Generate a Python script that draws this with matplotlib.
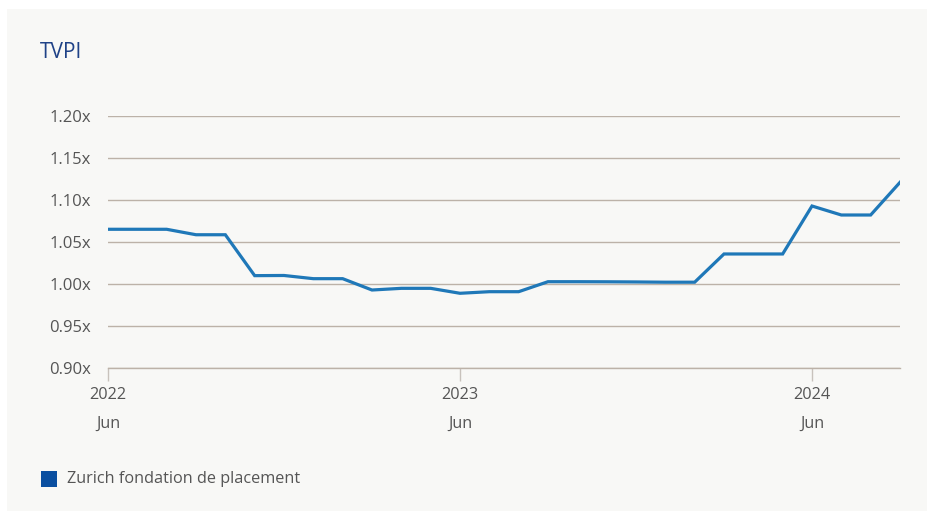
import matplotlib.pyplot as plt
from matplotlib.patches import Rectangle

plt.rcParams['font.family'] = ['Open Sans', 'DejaVu Sans']

# monthly TVPI, Jun 2022 .. Sep 2024
months = list(range(28))
tvpi = [1.0655, 1.0655, 1.0655, 1.059, 1.059, 1.0103, 1.0105, 1.0067, 1.0067,
        0.9932, 0.9952, 0.9952, 0.9893, 0.9912, 0.9912, 1.0031, 1.0031, 1.0030,
        1.0028, 1.0025, 1.0025, 1.0361, 1.0361, 1.0361, 1.0932, 1.0825, 1.0825,
        1.1214]
year_ticks = [0, 12, 24]
year_labels = ['2022\n\nJun', '2023\n\nJun', '2024\n\nJun']
y_ticks = [0.90, 0.95, 1.00, 1.05, 1.10, 1.15, 1.20]
series_name = 'Zurich fondation de placement'

bg = '#f8f8f6'
grid_col = '#bcb2a8'
text_col = '#555555'

fig = plt.figure(figsize=(9.28, 5.11), dpi=100)
fig.patch.set_facecolor('white')
fig.patches.append(Rectangle((7 / 928, -0.05), 1.1, 1.05 - 9 / 511, transform=fig.transFigure,
                             facecolor=bg, edgecolor='none', zorder=-10))

ax = fig.add_axes([108 / 928, 1 - 368.3 / 511, (900 - 108) / 928, (368.3 - 116.3) / 511])
ax.set_facecolor(bg)
ax.plot(months, tvpi, color='#1f78b8', lw=2.3, solid_joinstyle='miter', zorder=3)

ax.set_xlim(0, 27)
ax.set_ylim(0.90, 1.20)
ax.set_yticks(y_ticks)
ax.set_yticklabels([f'{v:.2f}x' for v in y_ticks])
ax.set_xticks(year_ticks)
ax.set_xticklabels(year_labels, linespacing=0.85)

for s in ['top', 'right', 'left']:
    ax.spines[s].set_visible(False)
ax.spines['bottom'].set_color(grid_col)
ax.spines['bottom'].set_linewidth(1)
ax.grid(axis='y', color=grid_col, lw=1)
ax.set_axisbelow(True)
ax.tick_params(axis='y', length=0, pad=12, labelsize=12, labelcolor=text_col)
ax.tick_params(axis='x', length=9, width=1, color='#c8c2bc', pad=4.5,
               labelsize=11.7, labelcolor=text_col)

fig.text(40 / 928, 1 - 53 / 511, 'TVPI', fontsize=15, color='#1f4287', va='center')

fig.patches.append(Rectangle((41 / 928, 1 - 487 / 511), 16 / 928, 16 / 511,
                             transform=fig.transFigure, facecolor='#0a4fa0', edgecolor='none'))
fig.text(67 / 928, 1 - 479 / 511, series_name, fontsize=11.7, color=text_col, va='center')

fig.savefig('out.png', dpi=100, facecolor=fig.get_facecolor())
